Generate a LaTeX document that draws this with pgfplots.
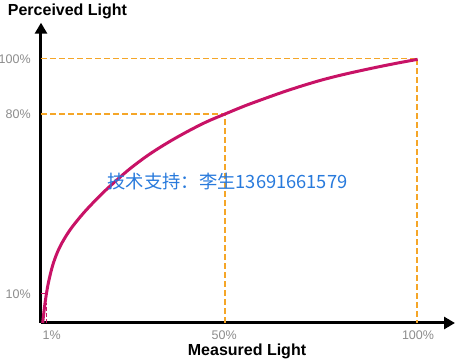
\documentclass[border=0pt]{standalone}
\usepackage{fontspec}
\setmainfont{Liberation Sans}
\newfontfamily\cjk{Noto Sans CJK SC}
\usepackage{pgfplots}
\pgfplotsset{compat=1.18}
\usetikzlibrary{arrows.meta}
\definecolor{curvec}{RGB}{200,18,102}
\definecolor{guidec}{RGB}{245,166,40}
\definecolor{wm}{RGB}{40,122,220}
\definecolor{tickc}{RGB}{140,140,140}
\begin{document}
\begin{tikzpicture}
\path[use as bounding box] (0,0) rectangle (456pt,362pt);
\begin{axis}[
  at={(41pt,39pt)}, anchor=south west,
  scale only axis, width=414pt, height=300.3pt,
  xmin=2.26, xmax=109.7, ymin=3.58, ymax=113.4,
  axis lines=left,
  axis line style={line width=3pt, black, -{Triangle[length=11pt,width=12pt]}},
  tick style={draw=none},
  xtick={5.03,49.8,100.1}, xticklabels={1\%,50\%,100\%},
  ytick={14.2,80,100}, yticklabels={10\%,80\%,100\%},
  /pgf/number format/assume math mode=true,
  ticklabel style={font=\fontsize{12.5}{14}\selectfont, text=tickc, inner sep=0pt},
  xticklabel style={anchor=north, yshift=-5pt},
  yticklabel style={anchor=east, xshift=-8pt},
  xlabel={\bfseries Measured Light},
  ylabel={\bfseries Perceived Light},
  xlabel style={at={(axis description cs:0.4976,-0.0956)}, anchor=center, font=\fontsize{16}{18}\selectfont, inner sep=0pt},
  ylabel style={at={(axis description cs:0.064,1.0366)}, anchor=center, rotate=-90, font=\fontsize{16}{18}\selectfont, inner sep=0pt},
  clip=false,
]
% guide lines
\addplot[draw=guidec, line width=1.2pt, dash pattern=on 6pt off 3pt] coordinates {(2.26,80) (50,80) (50,3.58)};
\addplot[draw=guidec, line width=1.3pt, dash pattern=on 6pt off 3pt] coordinates {(2.26,100.2) (99.9,100.2)};
\addplot[draw=guidec, line width=1.3pt, dash pattern=on 6pt off 3pt] coordinates {(99.8,100) (99.8,3.58)};
% 1% / 10% markers
\addplot[draw=curvec, line width=0.8pt] coordinates {(2.26,14.44) (3.74,14.44)};
\addplot[draw=curvec, line width=0.8pt, dash pattern=on 4pt off 2pt] coordinates {(3.74,3.58) (3.74,10.8)};
% curve
\addplot[draw=curvec, line width=3pt, smooth, tension=0.55] coordinates {
(2.70,3.6) (3.30,10.8) (4.15,18.1) (5.45,25.4) (7.19,31.5) (9.78,37.6)
(13.24,43.7) (16.71,48.9) (20,53.4) (25,59.6) (30,64.9) (35,69.4)
(40,73.4) (45,77.0) (50,80.0) (55,82.9) (60,85.5) (65,88.0) (70,90.3)
(75,92.4) (80,94.2) (85,95.8) (90,97.3) (95,98.7) (100,100.0)
};
\node[font=\cjk\fontsize{18.3}{20}\selectfont, text=wm, inner sep=0pt] at (axis cs:50.66,55.25) {技术支持：李生13691661579};
\end{axis}
\end{tikzpicture}
\end{document}
